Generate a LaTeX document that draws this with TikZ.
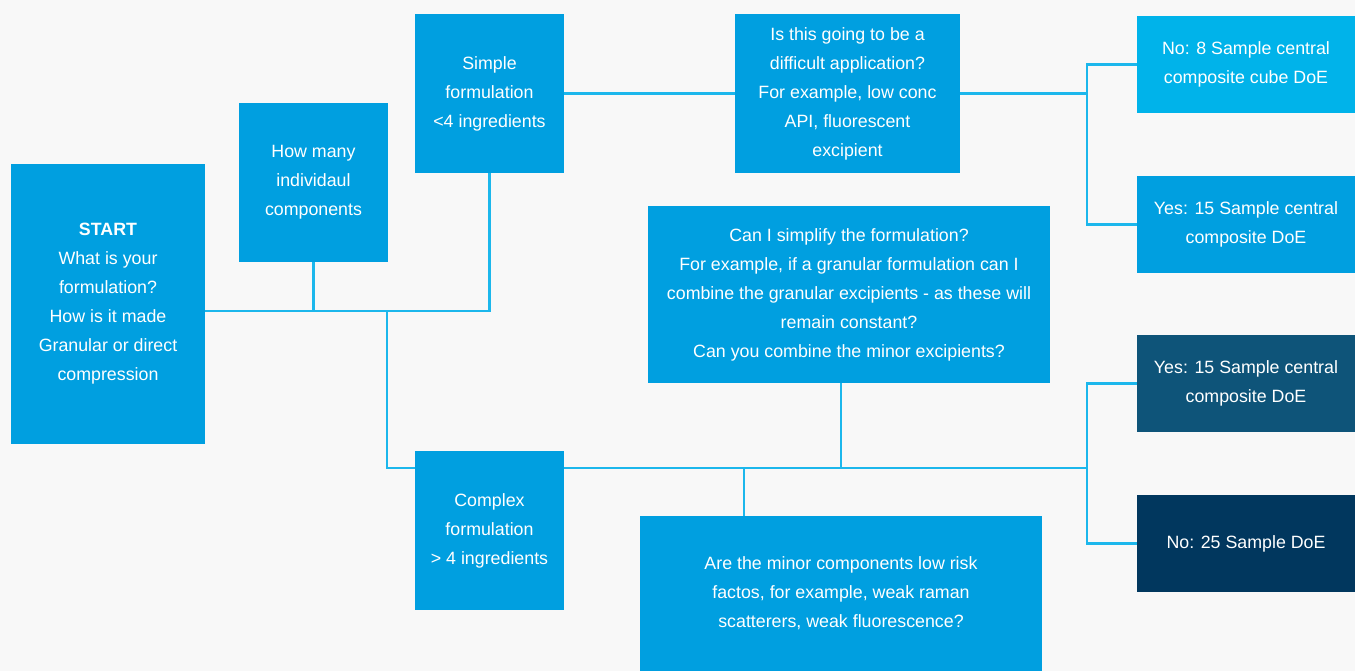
\documentclass[tikz,border=0pt]{standalone}
\usepackage{fontspec}
\setmainfont{Liberation Sans}
\usetikzlibrary{calc}
\definecolor{bgc}{HTML}{F8F8F8}
\definecolor{boxc}{HTML}{009FE0}
\definecolor{lightc}{HTML}{00B3EA}
\definecolor{midc}{HTML}{0E5479}
\definecolor{darkc}{HTML}{01375E}
\definecolor{linec}{HTML}{1CB7EC}
\pgfdeclarelayer{bglayer}
\pgfdeclarelayer{lines}
\pgfsetlayers{bglayer,lines,main}
\tikzset{
  box/.style={fill=boxc, text=white, inner sep=0pt, align=center,
    font=\fontsize{17.8}{29}\selectfont},
  conn/.style={draw=linec, line width=2.6pt}
}
\begin{document}
\begin{tikzpicture}[x=1pt,y=-1pt]
\begin{pgfonlayer}{bglayer}
\fill[bgc] (0,0) rectangle (1355,671);
\end{pgfonlayer}
\useasboundingbox (0,0) rectangle (1355,671);
\node[box, minimum width=194pt, minimum height=280pt] (start) at (108,304)
  {\textbf{START}\\What is your\\formulation?\\How is it made\\Granular or direct\\compression};
\node[box, minimum width=149pt, minimum height=159pt] (many) at (313.5,182.5)
  {How many\\individaul\\components};
\node[box, minimum width=149pt, minimum height=159pt] (simple) at (489.5,93.5)
  {Simple\\formulation\\<4 ingredients};
\node[box, minimum width=225pt, minimum height=159pt] (diff) at (847.5,93.5)
  {Is this going to be a\\difficult application?\\For example, low conc\\API, fluorescent\\excipient};
\node[box, fill=lightc, minimum width=218pt, minimum height=97pt] (no8) at (1246,64.5)
  {No: 8 Sample central\\composite cube DoE};
\node[box, minimum width=218pt, minimum height=97pt] (yes15a) at (1246,224.5)
  {Yes: 15 Sample central\\composite DoE};
\node[box, minimum width=402pt, minimum height=177pt] (simp) at (849,294.5)
  {Can I simplify the formulation?\\For example, if a granular formulation can I\\combine the granular excipients - as these will\\remain constant?\\Can you combine the minor excipients?};
\node[box, fill=midc, minimum width=218pt, minimum height=97pt] (yes15b) at (1246,383.5)
  {Yes: 15 Sample central\\composite DoE};
\node[box, fill=darkc, minimum width=218pt, minimum height=97pt] (no25) at (1246,543.5)
  {No: 25 Sample DoE};
\node[box, minimum width=149pt, minimum height=159pt] (complex) at (489.5,530.5)
  {Complex\\formulation\\> 4 ingredients};
\node[box, minimum width=402pt, minimum height=155pt] (minor) at (841,593.5)
  {Are the minor components low risk\\factos, for example, weak raman\\scatterers, weak fluorescence?};
\coordinate (j1) at (310,311);
\coordinate (j2) at (387,311);
\coordinate (j4) at (387,468);
\coordinate (b1) at (1087,89);
\coordinate (b2) at (1087,468);
\coordinate (m) at (744,468);
\coordinate (s) at (841,468);
\begin{pgfonlayer}{lines}
\draw[conn] (start.east |- j1) -| (simple.south);
\draw[conn] (many.south) -- (many.south |- j1);
\draw[conn] (j2) -- (j4) -- (b2);
\draw[conn] (s) -- (s |- simp.south);
\draw[conn] (m) -- (m |- minor.north);
\draw[conn] (yes15b.west) -- (yes15b.west -| b2) -- (no25.west -| b2) -- (no25.west);
\draw[conn] (simple.east) -- (diff.west);
\draw[conn] (diff.east) -- (diff.east -| b1);
\draw[conn] (no8.west) -- (no8.west -| b1) -- (yes15a.west -| b1) -- (yes15a.west);
\end{pgfonlayer}
\end{tikzpicture}
\end{document}
